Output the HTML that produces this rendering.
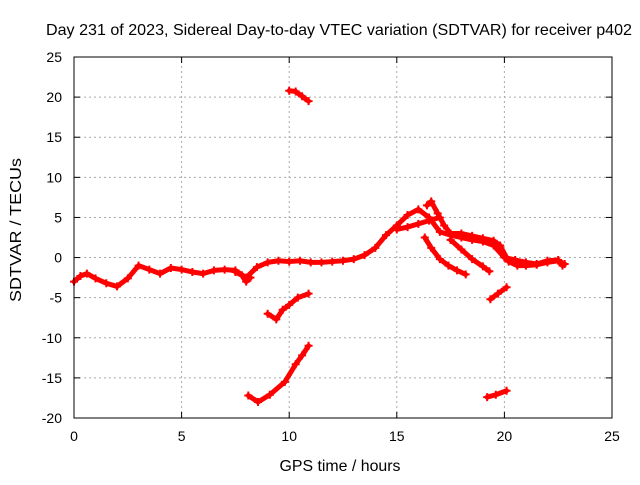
<!DOCTYPE html>
<html><head><meta charset="utf-8"><style>
body{margin:0;background:#fff}
svg{font-family:"Liberation Sans",sans-serif;font-size:14px}
</style></head><body>
<svg id="c" width="640" height="480">
<text x="339" y="35" text-anchor="middle" font-size="16" textLength="586" lengthAdjust="spacingAndGlyphs">Day 231 of 2023, Sidereal Day-to-day VTEC variation (SDTVAR) for receiver p402</text>
<text x="340" y="471" text-anchor="middle" font-size="16" textLength="121" lengthAdjust="spacingAndGlyphs">GPS time / hours</text>
<text transform="translate(21,230) rotate(-90)" text-anchor="middle" font-size="16" textLength="144" lengthAdjust="spacingAndGlyphs">SDTVAR / TECUs</text>
<g id="grid"></g><g id="marks"></g>
<rect x="74" y="57" width="538" height="361" fill="none" stroke="#000"/>
</svg>
<script>
const xTicks=[0,5,10,15,20,25];
const yTicks=[-20,-15,-10,-5,0,5,10,15,20,25];
const seriesMain=[[0,-3],[0.3,-2.3],[0.6,-2],[1,-2.6],[1.5,-3.2],[2,-3.6],[2.5,-2.6],[3,-1],[3.5,-1.5],[4,-2],[4.5,-1.3],[5,-1.5],[5.5,-1.8],[6,-2],[6.5,-1.6],[7,-1.5],[7.5,-1.6],[8,-2.5],[8.5,-1.2],[9,-0.6],[9.5,-0.4],[10,-0.5],[10.5,-0.4],[11,-0.6],[11.5,-0.6],[12,-0.5],[12.5,-0.4],[13,-0.2],[13.5,0.3],[14,1.2],[14.5,2.8],[15,4],[15.5,5.3],[16,6],[16.5,5],[17,3.2],[17.5,2.8],[18,2.5],[18.5,2.2],[19,2],[19.5,1.5],[20,0],[20.5,-0.3],[21,-0.6],[21.5,-0.8],[22,-0.4],[22.5,-0.3],[22.7,-1]];
const seriesB=[[16.4,6.5],[16.6,7],[16.9,5.5],[17.2,4],[17.5,3],[18,3],[18.5,2.7],[19,2.4],[19.5,2.1],[19.8,1.5],[20.2,-0.5],[20.6,-1],[21,-1],[21.5,-0.9],[22,-0.6],[22.5,-0.4],[22.8,-0.8]];
const seriesC=[[16.3,2.5],[16.6,1.2],[17,-0.2],[17.4,-1],[17.8,-1.6],[18.2,-2.1]];
const seriesD=[[17.5,2.2],[18,1],[18.5,-0.2],[19,-1.1],[19.3,-1.7]];
const seriesE=[[15,3.5],[15.5,3.8],[16,4.2],[16.5,4.6],[17,5]];
const seriesF=[[7.5,-1.8],[7.8,-2.2],[8,-3],[8.2,-2.5]];
const seriesTop=[[10,20.8],[10.3,20.7],[10.6,20.1],[10.9,19.5]];
const seriesMid=[[9,-7],[9.4,-7.7],[9.7,-6.5],[10,-5.9],[10.4,-5],[10.9,-4.5]];
const seriesLow=[[8.1,-17.2],[8.55,-18],[9.1,-17.1],[9.8,-15.5],[10.3,-13.3],[10.6,-12.2],[10.9,-11]];
const seriesG=[[19.35,-5.2],[19.7,-4.5],[20.1,-3.7]];
const seriesH=[[19.2,-17.4],[19.6,-17.1],[20.1,-16.6]];
const allSeries=[seriesMain,seriesB,seriesC,seriesD,seriesE,seriesF,seriesTop,seriesMid,seriesLow,seriesG,seriesH];
const X0=74,X1=612,Y0=418,Y1=57;
const xs=v=>X0+(v-0)/25*(X1-X0);
const ys=v=>Y0-(v+20)/45*(Y0-Y1);
const NS="http://www.w3.org/2000/svg";
const grid=document.getElementById('grid'),marks=document.getElementById('marks');
function mk(tag,at,p){const e=document.createElementNS(NS,tag);for(const k in at)e.setAttribute(k,at[k]);p.appendChild(e);return e;}
xTicks.forEach(t=>{const x=xs(t);
 if(t>0&&t<25){const l=mk('line',{x1:x,x2:x,y1:Y0,y2:Y1,stroke:'#aaa','stroke-dasharray':'2,3'},grid);
 
 }
 mk('line',{x1:x,x2:x,y1:Y0,y2:Y0-6,stroke:'#000'},grid);
 mk('line',{x1:x,x2:x,y1:Y1,y2:Y1+6,stroke:'#000'},grid);
 const tx=mk('text',{x:x,y:Y0+23,'text-anchor':'middle'},grid);tx.textContent=t;
 
 });
yTicks.forEach(t=>{const y=ys(t);
 if(t>-20&&t<25){const l=mk('line',{x1:X0,x2:X1,y1:y,y2:y,stroke:'#aaa','stroke-dasharray':'2,3'},grid);
 
 }
 mk('line',{x1:X0,x2:X0+6,y1:y,y2:y,stroke:'#000'},grid);
 mk('line',{x1:X1,x2:X1-6,y1:y,y2:y,stroke:'#000'},grid);
 const tx=mk('text',{x:X0-12,y:y+5,'text-anchor':'end'},grid);tx.textContent=t;
 
 });
allSeries.forEach((s,i)=>{
 const pl=mk('polyline',{points:s.map(p=>xs(p[0])+','+ys(p[1])).join(' '),fill:'none',stroke:'#f00','stroke-width':5,'stroke-linejoin':'round','stroke-linecap':'round'},marks);
 
 
 s.forEach(p=>{const x=xs(p[0]),y=ys(p[1]);
  const m=mk('path',{d:`M${x-4},${y}H${x+4}M${x},${y-4}V${y+4}`,stroke:'#f00','stroke-width':2},marks);
  
  });
});
</script>
</body></html>
